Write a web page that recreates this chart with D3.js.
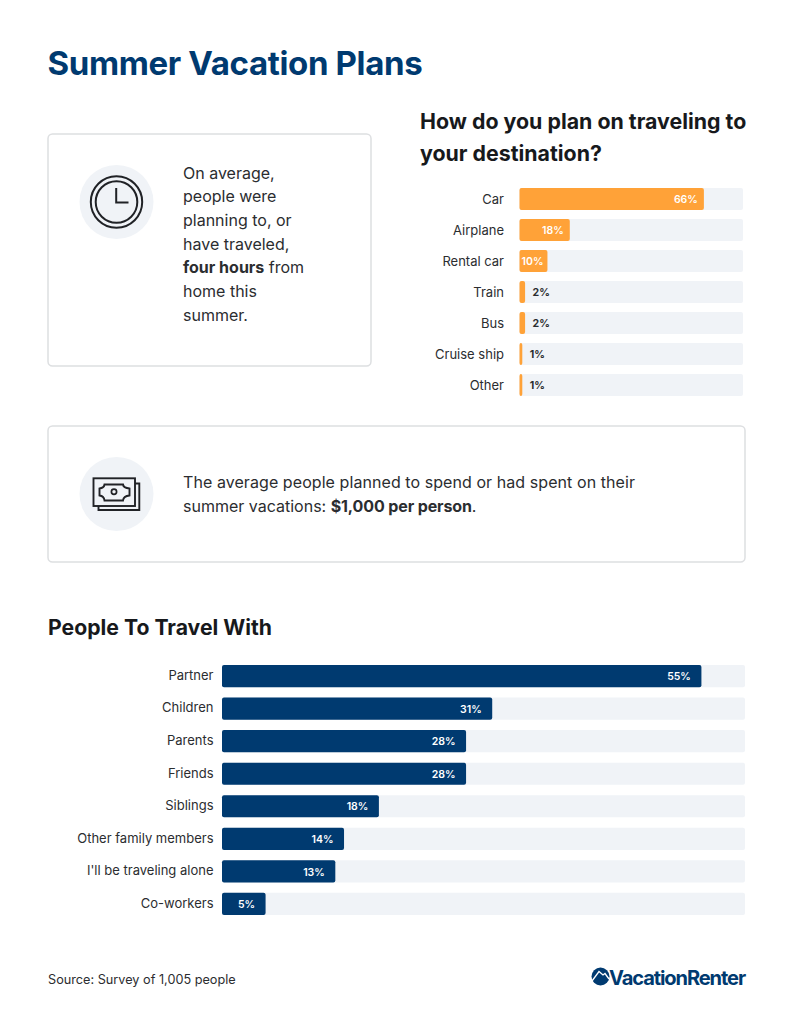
<!DOCTYPE html>
<html>
<head>
<meta charset="utf-8">
<script src="https://cdn.jsdelivr.net/npm/d3@7/dist/d3.min.js"></script>
<style>
html,body{margin:0;padding:0;background:#fff}
svg{display:block}
text{font-family:Inter,"Noto Sans",sans-serif}
.domain{display:none}
</style>
</head>
<body>
<div id="chart"></div>
<script>
const transportCategories = ["Car","Airplane","Rental car","Train","Bus","Cruise ship","Other"];
const transportValues = [66,18,10,2,2,1,1];
const companionCategories = ["Partner","Children","Parents","Friends","Siblings","Other family members","I'll be traveling alone","Co-workers"];
const companionValues = [55,31,28,28,18,14,13,5];
const hoursLines = [["On average,"],["people were"],["planning to, or"],["have traveled,"],["four hours","from"],["home this"],["summer."]];

const NAVY="#003a70", ORANGE="#ffa238", TRACK="#f0f3f7", INK="#2b2d30", ICON="#202226", BORDER="#dddfe1";
const svg=d3.select("#chart").append("svg").attr("width",792).attr("height",1024);

svg.append("text").attr("x",47.5).attr("y",75).attr("font-size",33).attr("font-weight",700)
  .attr("fill",NAVY).attr("letter-spacing",-0.35).text("Summer Vacation Plans");

function card(x,y,w,h){
  svg.append("rect").attr("x",x).attr("y",y).attr("width",w).attr("height",h).attr("rx",4.5)
    .attr("fill","#fff").attr("stroke",BORDER).attr("stroke-width",1.5);
}
card(48,134,323,232);
card(48,426,697,136);

// clock icon
const clock=svg.append("g").attr("transform","translate(116.5,202)");
clock.append("circle").attr("r",37).attr("fill",TRACK);
clock.append("circle").attr("r",25.7).attr("fill","none").attr("stroke",ICON).attr("stroke-width",2);
clock.append("circle").attr("r",20.8).attr("fill","none").attr("stroke",ICON).attr("stroke-width",2);
clock.append("path").attr("d","M-0.3,-14V0.5H12").attr("fill","none").attr("stroke",ICON).attr("stroke-width",2);

// money icon
const money=svg.append("g").attr("transform","translate(116.5,494)");
money.append("circle").attr("r",37).attr("fill",TRACK);
money.append("rect").attr("x",-23).attr("y",-15.7).attr("width",41.5).attr("height",27.7).attr("fill","none").attr("stroke",ICON).attr("stroke-width",1.9);
money.append("path").attr("d","M18.5,-10.5H22.8V16H-18V12").attr("fill","none").attr("stroke",ICON).attr("stroke-width",1.9);
money.append("path").attr("d","M-12,-9.5H6.5Q7,-6 13,-5.5V1.5Q7,2 6.5,6.5H-12Q-12.5,2 -17,1.5V-5.5Q-12.5,-6 -12,-9.5Z").attr("fill","none").attr("stroke",ICON).attr("stroke-width",1.9);
money.append("circle").attr("cx",-2.5).attr("cy",-2.2).attr("r",2.6).attr("fill","none").attr("stroke",ICON).attr("stroke-width",1.7);

// first card text
const hoursY=d3.scaleLinear().domain([0,6]).range([178.7,320.7]);
hoursLines.forEach((parts,i)=>{
  const t=svg.append("text").attr("x",183).attr("y",hoursY(i)).attr("font-size",16).attr("fill",INK);
  if(parts.length>1){
    t.append("tspan").attr("font-weight",700).text(parts[0]);
    t.append("tspan").text(" "+parts[1]);
  } else t.text(parts[0]);
});

// second card text
svg.append("text").attr("x",183).attr("y",488).attr("font-size",16).attr("fill",INK).attr("letter-spacing",0.07)
  .text("The average people planned to spend or had spent on their");
const l2=svg.append("text").attr("x",183).attr("y",512).attr("font-size",16).attr("fill",INK);
l2.append("tspan").text("summer vacations: ");
l2.append("tspan").attr("font-weight",700).attr("letter-spacing",-0.12).text("$1,000 per person");
l2.append("tspan").text(".");

// headings
svg.append("text").attr("x",420).attr("y",129).attr("font-size",21.35).attr("font-weight",700).attr("fill","#17191c").text("How do you plan on traveling to");
svg.append("text").attr("x",420).attr("y",161).attr("font-size",21.35).attr("font-weight",700).attr("fill","#17191c").text("your destination?");
svg.append("text").attr("x",48).attr("y",635).attr("font-size",21.2).attr("font-weight",700).attr("fill","#17191c").text("People To Travel With");

function barChart(o){
  const x=d3.scaleLinear().domain([0,o.max]).range([o.x0,o.x1]);
  const y=d3.scaleBand().domain(o.cats).range([o.y0,o.y1]).paddingInner(o.pad).paddingOuter(0);
  const g=svg.append("g");
  g.append("g").attr("transform",`translate(${o.x0-o.labelGap},${o.labelDy})`)
    .call(d3.axisLeft(y).tickSize(0).tickPadding(0))
    .call(a=>a.selectAll("text").attr("font-size",13).attr("fill",INK).attr("font-family","Inter").attr("dy","0.32em"));
  const data=o.cats.map((c,i)=>({c,v:o.vals[i]}));
  g.selectAll(".track").data(data).join("rect")
    .attr("x",x(0)).attr("y",d=>y(d.c)).attr("width",x(o.max)-x(0)).attr("height",y.bandwidth())
    .attr("rx",2).attr("fill",TRACK);
  g.selectAll(".bar").data(data).join("rect")
    .attr("x",x(0)).attr("y",d=>y(d.c)).attr("width",d=>x(d.v)-x(0)).attr("height",y.bandwidth())
    .attr("rx",2).attr("fill",o.color);
  g.selectAll(".val").data(data).join("text")
    .attr("x",d=>d.v>=o.inside? Math.max(x(d.v)-o.inGap,o.x0+24) : x(d.v)+7.5)
    .attr("y",d=>y(d.c)+y.bandwidth()/2+0.5).attr("dy","0.35em")
    .attr("text-anchor",d=>d.v>=o.inside?"end":"start")
    .attr("font-size",10.5).attr("font-weight",d=>d.v>=o.inside?600:700)
    .attr("fill",d=>d.v>=o.inside?"#fff":INK)
    .text(d=>d.v+"%");
}
barChart({cats:transportCategories,vals:transportValues,max:80,x0:519.5,x1:743,y0:188,y1:396,pad:0.29,color:ORANGE,inside:5,labelGap:15.5,labelDy:0.6,inGap:6});
barChart({cats:companionCategories,vals:companionValues,max:60,x0:222,x1:745,y0:665,y1:915,pad:0.32,color:NAVY,inside:1,labelGap:8.5,labelDy:-0.3,inGap:10.5});

// footer
svg.append("text").attr("x",48).attr("y",984).attr("font-size",12.7).attr("fill",INK).text("Source: Survey of 1,005 people");
const logo=svg.append("g");
logo.append("circle").attr("cx",600.5).attr("cy",976.5).attr("r",9).attr("fill",NAVY);
logo.append("path").attr("d","M592,981L599,971.5L603,975L605,973.5L609,979").attr("fill","none").attr("stroke","#fff").attr("stroke-width",1.3);
logo.append("text").attr("x",609).attr("y",985).attr("font-size",20).attr("font-weight",700).attr("fill",NAVY)
  .attr("letter-spacing",-1.1).attr("textLength",136).attr("lengthAdjust","spacingAndGlyphs").text("VacationRenter");
</script>
</body>
</html>
